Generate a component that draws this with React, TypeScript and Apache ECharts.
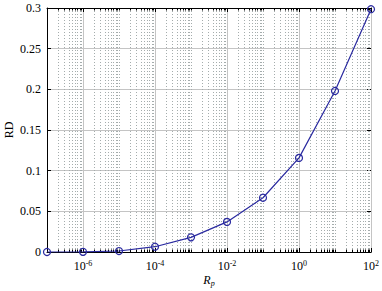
import React, { useEffect, useRef } from "react";
import * as echarts from "echarts";

const rpValues = [1e-7, 1e-6, 1e-5, 1e-4, 1e-3, 1e-2, 1e-1, 1e0, 1e1, 1e2];
const rdValues = [0, 0.0002, 0.0012, 0.0065, 0.018, 0.037, 0.0667, 0.1157, 0.198, 0.2985];
const xTickExponents = [-6, -4, -2, 0, 2];
const yTicks = [0, 0.05, 0.1, 0.15, 0.2, 0.25, 0.3];

const FONT = "Liberation Serif";

export default function App() {
  const ref = useRef<HTMLDivElement>(null);
  useEffect(() => {
    if (!ref.current) return;
    const chart = echarts.init(ref.current, null, { renderer: "svg" });

    const majorX: number[] = xTickExponents.slice();
    const minorX: number[] = [];
    for (let n = -7; n <= 1; n++) {
      if (!majorX.includes(n) && n > -7) minorX.push(n);
      for (let k = 2; k <= 9; k++) minorX.push(n + Math.log10(k));
    }
    const gridData = [
      ...majorX.map((x) => [x, 1]),
      ...minorX.map((x) => [x, 0]),
    ];

    chart.setOption({
      animation: false,
      backgroundColor: "#fff",
      textStyle: { fontFamily: FONT },
      grid: { left: 47, right: 11, top: 8, bottom: 39, containLabel: false, outerBoundsMode: "none" },
      xAxis: [
        {
          type: "value",
          min: -7,
          max: 2,
          interval: 1,
          axisLine: { show: true, onZero: false, lineStyle: { color: "#000", width: 1 } },
          axisTick: { show: false },
          splitLine: { show: false },
          axisLabel: {
            margin: 7,
            fontFamily: FONT,
            color: "#000",
            formatter: (v: number) =>
              xTickExponents.includes(v) ? `{b|10}{s|${v}}` : "",
            rich: {
              b: { fontSize: 12, fontFamily: FONT, color: "#000", lineHeight: 14 },
              s: { fontSize: 8, fontFamily: FONT, color: "#000", verticalAlign: "top", lineHeight: 14, padding: [0, 0, 6, 0] },
            },
          },
          name: "{i|R}{p|p}",
          nameLocation: "middle",
          nameGap: 21,
          nameMoveOverlap: false,
          nameTextStyle: {
            rich: {
              i: { fontSize: 12, fontFamily: FONT, fontStyle: "italic", color: "#000" },
              p: { fontSize: 8, fontFamily: FONT, fontStyle: "italic", color: "#000", padding: [6, 0, 0, 0] },
            },
          },
        },
        {
          type: "value",
          position: "top",
          min: -7,
          max: 2,
          interval: 1,
          axisLine: { show: true, onZero: false, lineStyle: { color: "#000", width: 1 } },
          axisTick: { show: false },
          axisLabel: { show: false },
          splitLine: { show: false },
        },
      ],
      yAxis: [
        {
          type: "value",
          min: 0,
          max: 0.3,
          interval: 0.05,
          position: "left",
          axisLine: { show: true, onZero: false, lineStyle: { color: "#000", width: 1 } },
          axisTick: { show: true, inside: true, length: 4, lineStyle: { color: "#000" } },
          axisLabel: {
            margin: 6,
            fontSize: 12,
            fontFamily: FONT,
            color: "#000",
            formatter: (v: number) => String(+v.toFixed(2)),
          },
          splitLine: { show: true, lineStyle: { color: "#c4c4c4", width: 1 } },
          name: "RD",
          nameLocation: "middle",
          nameGap: 32,
          nameRotate: 90,
          nameMoveOverlap: false,
          nameTextStyle: { fontSize: 12, fontFamily: FONT, color: "#000" },
        },
        {
          type: "value",
          position: "right",
          min: 0,
          max: 0.3,
          interval: 0.05,
          axisLine: { show: true, onZero: false, lineStyle: { color: "#000", width: 1 } },
          axisTick: { show: true, inside: true, length: 4, lineStyle: { color: "#000" } },
          axisLabel: { show: false },
          splitLine: { show: false },
        },
      ],
      series: [
        {
          type: "custom",
          silent: true,
          z: 1,
          data: gridData,
          renderItem: (_params: any, api: any) => {
            const x = Math.round(api.coord([api.value(0), 0])[0]) + 0.5;
            const major = api.value(1) === 1;
            const yb = api.coord([0, 0])[1];
            const yt = api.coord([0, 0.3])[1];
            const tl = major ? 4 : 2.5;
            return {
              type: "group",
              children: [
                {
                  type: "line",
                  shape: { x1: x, y1: yb, x2: x, y2: yt },
                  style: major
                    ? { stroke: "#c4c4c4", lineWidth: 1 }
                    : { stroke: "#a4acac", lineWidth: 1, lineDash: [1, 2] },
                },
                {
                  type: "line",
                  shape: { x1: x, y1: yb, x2: x, y2: yb - tl },
                  style: { stroke: "#000", lineWidth: 1 },
                },
                {
                  type: "line",
                  shape: { x1: x, y1: yt, x2: x, y2: yt + tl },
                  style: { stroke: "#000", lineWidth: 1 },
                },
              ],
            };
          },
        },
        {
          type: "line",
          z: 5,
          data: rpValues.map((r, i) => [Math.log10(r), rdValues[i]]),
          symbol: "circle",
          symbolSize: 7,
          showSymbol: true,
          itemStyle: { color: "transparent", borderColor: "#2a2aa0", borderWidth: 1.2 },
          lineStyle: { color: "#2a2aa0", width: 1.2 },
        },
      ],
    });
    return () => chart.dispose();
  }, []);
  return <div ref={ref} style={{ width: 382, height: 291, position: "absolute", left: 0, top: 0 }} />;
}
